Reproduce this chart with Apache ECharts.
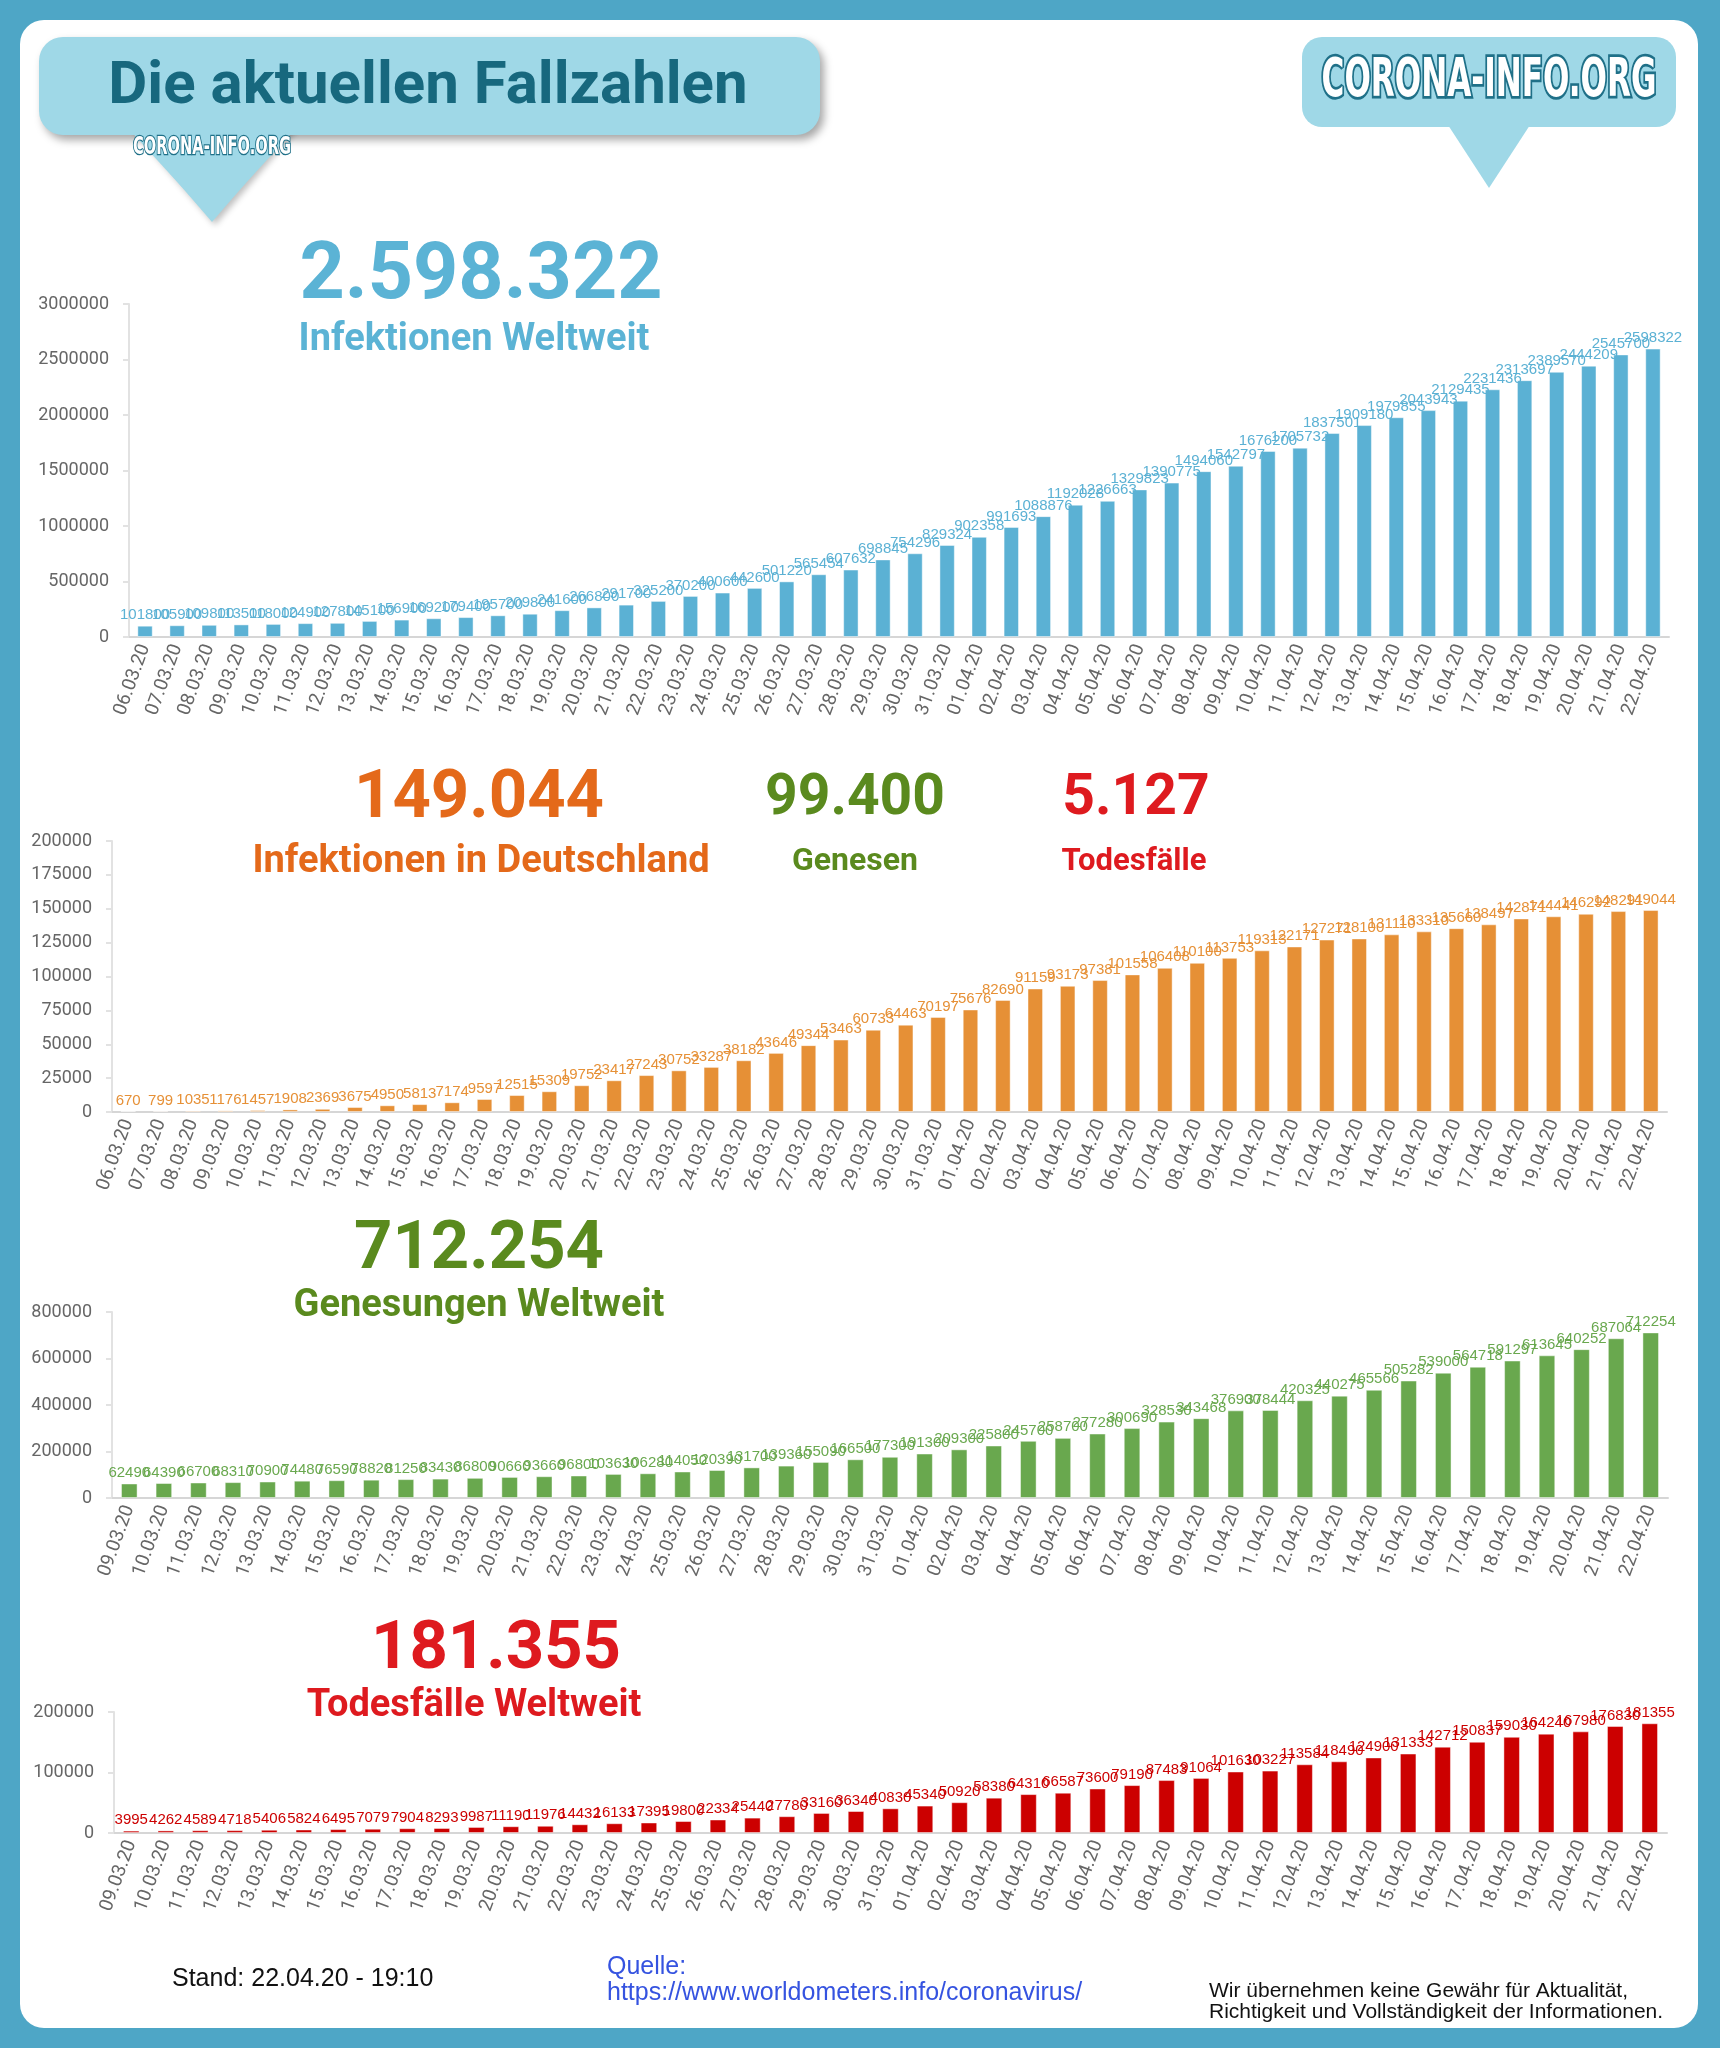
<!DOCTYPE html>
<html>
<head>
<meta charset="utf-8">
<script src="https://cdn.jsdelivr.net/npm/echarts@6/dist/echarts.min.js"></script>
<style>
  html, body { margin: 0; padding: 0; background: #4ea6c6; }
  #card { position: absolute; left: 20px; top: 20px; width: 1678px; height: 2008px; background: #fff; border-radius: 24px; }
  #main { position: absolute; left: 0; top: 0; width: 1720px; height: 2048px; }
</style>
</head>
<body>
<div id="card"></div>
<div id="main"></div>
<script>
// Datumsachsen
var datesLong = ['06.03.20','07.03.20','08.03.20','09.03.20','10.03.20','11.03.20','12.03.20','13.03.20','14.03.20','15.03.20',
  '16.03.20','17.03.20','18.03.20','19.03.20','20.03.20','21.03.20','22.03.20','23.03.20','24.03.20','25.03.20',
  '26.03.20','27.03.20','28.03.20','29.03.20','30.03.20','31.03.20','01.04.20','02.04.20','03.04.20','04.04.20',
  '05.04.20','06.04.20','07.04.20','08.04.20','09.04.20','10.04.20','11.04.20','12.04.20','13.04.20','14.04.20',
  '15.04.20','16.04.20','17.04.20','18.04.20','19.04.20','20.04.20','21.04.20','22.04.20'];
var datesShort = datesLong.slice(3); // ab 09.03.20

// Infektionen weltweit
var infWelt = [101800,105900,109800,113500,118000,124900,127800,145100,156900,169200,
  179400,195700,209800,241600,266800,291700,325200,370200,400600,442600,
  501220,565454,607632,698845,754296,829324,902358,991693,1088876,1192028,
  1226663,1329823,1390775,1494060,1542797,1676200,1705732,1837501,1909180,1979855,
  2043943,2129435,2231436,2313697,2389570,2444209,2545700,2598322];

// Infektionen Deutschland
var infDE = [670,799,1035,1176,1457,1908,2369,3675,4950,5813,
  7174,9597,12515,15309,19752,23417,27243,30752,33287,38182,
  43646,49344,53463,60733,64463,70197,75676,82690,91159,93173,
  97381,101558,106408,110100,113753,119313,122171,127271,128100,131110,
  133310,135660,138497,142871,144441,146292,148291,149044];

// Genesungen weltweit
var genWelt = [62490,64390,66700,68310,70900,74480,76590,78820,81250,83430,
  86800,90660,93660,96800,103630,106280,114050,120390,131700,139360,
  155090,166500,177300,191300,209300,225800,245700,258700,277280,300690,
  328530,343468,376900,378444,420325,440275,465566,505282,539000,564718,
  591297,613645,640252,687064,712254];

// Todesfälle weltweit
var totWelt = [3995,4262,4589,4718,5406,5824,6495,7079,7904,8293,
  9987,11190,11976,14432,16133,17395,19800,22334,25440,27780,
  33160,36340,40830,45340,50920,58380,64310,66587,73600,79190,
  87483,91064,101630,103227,113584,118490,124900,131333,142712,150837,
  159030,164240,167980,176830,181355];

var myChart = echarts.init(document.getElementById('main'));

var FONT = 'Roboto, "Liberation Sans", sans-serif';
var ARIAL = '"Liberation Sans", Arial, sans-serif';

function xAx(idx, data) {
  return {
    type: 'category', gridIndex: idx, data: data,
    axisLine: { lineStyle: { color: '#d6d6d6', width: 2 } },
    axisTick: { length: 6, lineStyle: { color: '#c8c8c8', width: 2 } },
    axisLabel: { interval: 0, rotate: 70, fontSize: 19, color: '#666', margin: 8, fontFamily: FONT }
  };
}
function yAx(idx, max, step) {
  return {
    type: 'value', gridIndex: idx, min: 0, max: max, interval: step,
    splitLine: { show: false },
    axisLine: { show: true, lineStyle: { color: '#e2e2e2', width: 2 } },
    axisTick: { show: true, length: 6, lineStyle: { color: '#e2e2e2', width: 2 } },
    axisLabel: { fontSize: 18, color: '#666', margin: 20, fontFamily: FONT,
      formatter: function (v) { return String(v); } }
  };
}
function bar(idx, data, color) {
  return {
    type: 'bar', xAxisIndex: idx, yAxisIndex: idx, data: data,
    barWidth: '48%',
    itemStyle: { color: color, borderColor: 'rgba(255,255,255,0.45)', borderWidth: 1 },
    label: {
      show: true, position: 'top', distance: 3, fontSize: 15, color: color, fontFamily: ARIAL,
      formatter: function (p) { return String(p.value); }
    }
  };
}
function txt(x, y, s, size, color) {
  return {
    type: 'text', x: x, y: y, z: 20,
    style: { text: s, fontSize: size, fill: color, fontWeight: 'bold',
      fontFamily: FONT, align: 'center', verticalAlign: 'middle' }
  };
}
function logo(x, y, size, sx) {
  return {
    type: 'text', x: x, y: y, z: 30, scaleX: sx,
    style: { text: 'CORONA-INFO.ORG', fontSize: size, fontWeight: 'bold',
      fontFamily: '"Liberation Sans Narrow", "DejaVu Sans Condensed", sans-serif',
      fill: '#ffffff', stroke: '#1f7088', lineWidth: size / 10,
      align: 'center', verticalAlign: 'middle' }
  };
}
function foot(x, y, s, size, color) {
  return { type: 'text', x: x, y: y,
    style: { text: s, fontSize: size, fill: color, fontFamily: ARIAL, verticalAlign: 'middle' } };
}

var option = {
  animation: false,
  grid: [
    { left: 129, top: 304, width: 1540, height: 333 },
    { left: 112, top: 841, width: 1555, height: 271 },
    { left: 112, top: 1312, width: 1556, height: 186 },
    { left: 114, top: 1712, width: 1553, height: 121 }
  ],
  xAxis: [xAx(0, datesLong), xAx(1, datesLong), xAx(2, datesShort), xAx(3, datesShort)],
  yAxis: [yAx(0, 3000000, 500000), yAx(1, 200000, 25000), yAx(2, 800000, 200000), yAx(3, 200000, 100000)],
  series: [
    bar(0, infWelt, '#5bb1d4'),
    bar(1, infDE, '#e69036'),
    bar(2, genWelt, '#69a84e'),
    bar(3, totWelt, '#cc0000')
  ],
  graphic: [
    // Banner links
    { type: 'polygon', z: 10, shape: { points: [[124, 120], [300, 120], [212, 222]] },
      style: { fill: '#9fd8e7', shadowColor: 'rgba(0,0,0,0.25)', shadowBlur: 6, shadowOffsetX: 3, shadowOffsetY: 3 } },
    { type: 'rect', z: 11, shape: { x: 39, y: 37, width: 781, height: 98, r: 24 },
      style: { fill: '#9fd8e7', shadowColor: 'rgba(0,0,0,0.35)', shadowBlur: 8, shadowOffsetX: 4, shadowOffsetY: 5 } },
    { type: 'polygon', z: 12, shape: { points: [[126, 126], [298, 126], [212, 220]] }, style: { fill: '#9fd8e7' } },
    txt(428, 88, 'Die aktuellen Fallzahlen', 60, '#17687e'),
    logo(212, 148, 24, 0.68),
    // Badge rechts
    { type: 'rect', z: 10, shape: { x: 1302, y: 37, width: 374, height: 90, r: 20 }, style: { fill: '#9fd8e7' } },
    { type: 'polygon', z: 10, shape: { points: [[1448, 125], [1530, 125], [1489, 188]] }, style: { fill: '#9fd8e7' } },
    logo(1489, 82, 54, 0.64),
    // Kennzahlen
    txt(481, 278, '2.598.322', 79, '#5bb3d5'),
    txt(474, 340, 'Infektionen Weltweit', 38, '#5bb3d5'),
    txt(479, 800, '149.044', 67, '#e4691a'),
    txt(481, 862, 'Infektionen in Deutschland', 38, '#e4691a'),
    txt(855, 800, '99.400', 57, '#5a8a1e'),
    txt(855, 862, 'Genesen', 32, '#5a8a1e'),
    txt(1136, 800, '5.127', 57, '#de1a1f'),
    txt(1134, 862, 'Todesfälle', 31, '#de1a1f'),
    txt(479, 1251, '712.254', 67, '#5a8a1e'),
    txt(479, 1306, 'Genesungen Weltweit', 38, '#5a8a1e'),
    txt(496, 1651, '181.355', 67, '#de1a1f'),
    txt(474, 1706, 'Todesfälle Weltweit', 38, '#de1a1f'),
    // Fußzeile
    foot(172, 1979, 'Stand: 22.04.20 - 19:10', 25, '#111'),
    foot(607, 1967, 'Quelle:', 25, '#3553e0'),
    foot(607, 1993, 'https://www.worldometers.info/coronavirus/', 25, '#3553e0'),
    foot(1209, 1991, 'Wir übernehmen keine Gewähr für Aktualität,', 21, '#111'),
    foot(1209, 2012, 'Richtigkeit und Vollständigkeit der Informationen.', 21, '#111')
  ]
};

myChart.setOption(option);
window.addEventListener('resize', function () { myChart.resize(); });
</script>
</body>
</html>
